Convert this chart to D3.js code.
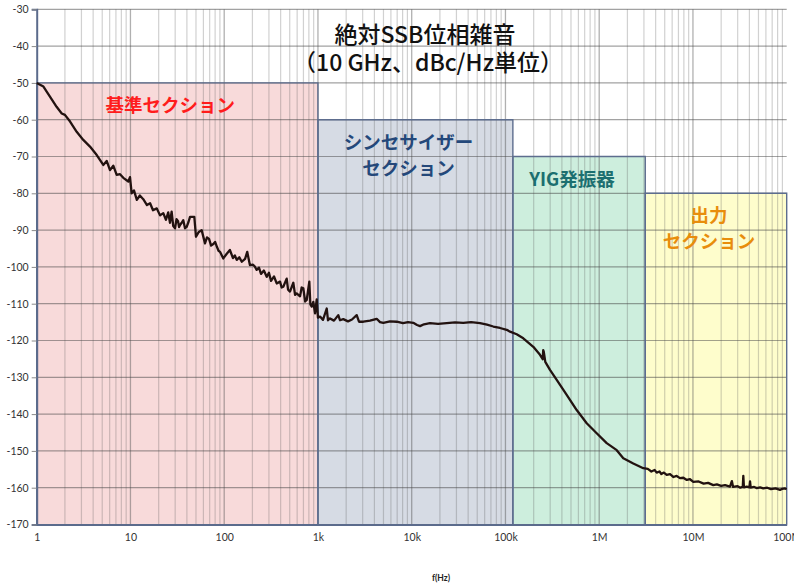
<!DOCTYPE html>
<html>
<head>
<meta charset="utf-8">
<script src="https://cdn.jsdelivr.net/npm/d3@7"></script>
<style>
  body { margin: 0; background: #ffffff; }
  svg { display: block; }
</style>
</head>
<body>
<svg id="chart" width="794" height="588"></svg>
<script>
// Axis ticks
const freqTicks = [1, 10, 100, 1e3, 1e4, 1e5, 1e6, 1e7, 1e8];
const freqTickLabels = ["1", "10", "100", "1k", "10k", "100k", "1M", "10M", "100M"];
const dbTicks = [-30, -40, -50, -60, -70, -80, -90, -100, -110, -120, -130, -140, -150, -160, -170];

// Chart title, two lines
const titleLines = ["絶対SSB位相雑音", "（10 GHz、dBc/Hz単位）"];

// Sections of the synthesizer and the band each one dominates
const sectionLines = [["基準セクション"], ["シンセサイザー", "セクション"], ["YIG発振器"], ["出力", "セクション"]];
const sectionStart = [1, 1e3, 1.2e5, 3.1e6];
const sectionEnd = [1e3, 1.2e5, 3.1e6, 1e8];
const sectionTop = [-50, -60, -70, -80];
const sectionFill = ["#f8dada", "#d6dbe4", "#cdeedd", "#fefdcc"];
const sectionText = ["#ff1c1c", "#24487a", "#1c6f70", "#e88d0c"];

// Measured SSB phase noise, 10 GHz carrier
const noiseFreq = [
  1, 1.18, 1.39, 1.63, 1.85, 2.0, 2.27, 2.67, 3.14, 3.7, 4.37, 5.13, 5.58, 6.05, 6.56, 7.13, 7.74, 8.39, 9.49, 9.89,
  10.3, 10.9, 11.7, 12.6, 13.7, 15.0, 16.2, 17.4, 19.1, 20.7, 22.4, 23.9, 25.3, 26.4, 27.5, 28.6, 29.9, 31.0, 32.2, 33.0, 33.8, 35.2, 36.6, 38.2, 39.8,
  41.6, 43.2, 48.0, 50.0, 53.2, 57.5, 62.4, 65.5, 68.9, 72.5, 76.6, 80.0, 83.8, 87.0, 90.2, 97.8,
  106, 115, 124, 130, 136, 145, 154, 167, 176, 188, 203, 212, 222, 235, 247, 265, 284, 300, 316, 340, 363, 394, 410, 427, 464, 480, 503, 546, 570, 593, 644, 670, 698, 730, 759, 809, 830, 858, 892, 931, 970,
  1000, 1052, 1132, 1240, 1280, 1345, 1483, 1648, 1718, 1863, 2092, 2307, 2590, 2741, 3048, 3590, 4233, 4592, 4977, 5872, 6918, 8075, 9140,
  10400, 11400, 12270, 13530, 15670, 19090, 23620, 28970, 35480, 42950, 53550, 63550, 74190, 87470,
  103100, 111900, 131800, 155000, 198200, 233600, 249700, 253000, 256000, 266000, 298500, 352200, 450000, 575400, 735900, 940300,
  1.202e6, 1.538e6, 1.807e6, 2.311e6, 2.952e6, 3.3e6, 3.6e6, 3.9e6, 4.104e6, 4.4e6, 4.6e6, 4.9e6, 5.248e6, 5.7e6, 6.2e6, 6.7e6, 7.278e6, 7.9e6, 8.6e6, 9.3e6,
  1.009e7, 1.15e7, 1.3e7, 1.45e7, 1.648e7, 1.8e7, 2.0e7, 2.2e7, 2.483e7, 2.6e7, 2.68e7, 3.0e7, 3.2e7, 3.40e7, 3.445e7, 3.5e7, 3.75e7, 4.0e7, 4.064e7, 4.13e7, 4.5e7, 4.8e7, 5.2e7, 5.623e7, 6.2e7, 6.8e7, 7.6e7, 8.488e7, 9.0e7, 9.594e7, 1e8
];
const noiseDb = [
  -50.0, -51.0, -53.8, -56.5, -58.3, -58.7, -60.5, -63.3, -65.5, -67.3, -69.6, -72.3, -71.2, -73.7, -72.5, -75.0, -74.8, -75.8, -76.8, -75.6,
  -80.0, -79.2, -81.8, -80.6, -81.6, -83.2, -82.7, -84.6, -84.1, -86.0, -85.4, -87.2, -85.2, -88.0, -85.0, -88.9, -89.5, -87.0, -87.6, -89.2, -88.6, -88.0, -87.3, -89.5, -89.1,
  -87.8, -86.4, -86.4, -91.8, -90.6, -90.0, -93.6, -92.0, -92.4, -94.2, -93.8, -93.2, -94.6, -95.6, -95.9, -97.7,
  -96.5, -95.4, -97.6, -96.9, -98.1, -97.4, -98.6, -97.8, -95.9, -99.5, -99.4, -99.9, -100.8, -100.2, -101.9, -101.0, -102.7, -101.6, -103.8, -102.6, -104.5, -104.0, -105.6, -105.4, -103.2, -106.2, -106.7, -104.3, -107.6, -107.2, -108.0, -105.6, -105.8, -109.4, -109.0, -104.0, -110.2, -110.8, -109.5, -112.6, -108.8,
  -113.8, -113.5, -114.4, -111.3, -114.5, -114.0, -114.6, -113.1, -114.5, -114.2, -114.8, -114.3, -113.1, -114.9, -114.9, -114.6, -114.1, -115.0, -115.2, -114.8, -114.9, -115.3, -115.0,
  -115.2, -115.8, -116.1, -115.6, -115.3, -115.5, -115.3, -115.1, -115.2, -115.0, -115.3, -115.7, -116.2, -116.6,
  -117.1, -117.6, -118.3, -119.4, -121.7, -123.9, -125.1, -122.6, -123.0, -125.8, -128.0, -130.7, -134.8, -138.9, -142.5, -145.2,
  -147.9, -149.8, -152.0, -153.4, -154.7, -154.9, -155.6, -155.2, -155.9, -155.6, -156.3, -155.9, -156.5, -156.3, -157.1, -156.8, -157.4, -157.3, -157.9, -157.7,
  -158.4, -158.3, -158.9, -158.7, -159.3, -159.1, -159.5, -159.3, -159.7, -158.2, -159.8, -159.6, -160.0, -159.8, -156.8, -159.9, -159.7, -159.9, -158.3, -160.0, -159.8, -160.1, -159.9, -160.2, -160.0, -160.4, -160.2, -160.6, -160.3, -160.2, -160.4
];

const W = 794, H = 588;
const plot = { left: 36.7, right: 786.7, top: 9.3, bottom: 524.5 };

const svg = d3.select("#chart");
const x = d3.scaleLog().domain([1, 1e8]).range([plot.left, plot.right]);
const y = d3.scaleLinear().domain([-30, -170]).range([plot.top, plot.bottom]);

const labelFont = "Lato, 'Open Sans', sans-serif";
const cjkFont = "'Noto Sans CJK JP', 'Noto Sans', sans-serif";

// Section backgrounds
const sections = sectionStart.map((s, i) => ({
  start: s, end: sectionEnd[i], top: sectionTop[i], fill: sectionFill[i], color: sectionText[i], lines: sectionLines[i]
}));

svg.append("g").selectAll("rect").data(sections).join("rect")
  .attr("x", d => x(d.start))
  .attr("y", d => y(d.top))
  .attr("width", d => x(d.end) - x(d.start))
  .attr("height", d => y(-170) - y(d.top))
  .attr("fill", d => d.fill);

// Grid: every 1..9 per decade, every 10 dB
const minorFreqs = [];
for (let e = 0; e < 8; e++) for (let m = 2; m <= 9; m++) minorFreqs.push(m * Math.pow(10, e));

const grid = svg.append("g");
grid.selectAll("line.minor").data(minorFreqs).join("line")
  .attr("class", "minor")
  .attr("x1", d => x(d)).attr("x2", d => x(d))
  .attr("y1", plot.top).attr("y2", plot.bottom)
  .attr("stroke", "rgba(90,90,90,0.28)").attr("stroke-width", 1.2);
grid.selectAll("line.major").data(freqTicks.slice(1, -1)).join("line")
  .attr("class", "major")
  .attr("x1", d => x(d)).attr("x2", d => x(d))
  .attr("y1", plot.top).attr("y2", plot.bottom)
  .attr("stroke", "rgba(80,80,80,0.45)").attr("stroke-width", 1.3);
grid.selectAll("line.h").data(dbTicks.slice(0, -1)).join("line")
  .attr("class", "h")
  .attr("x1", plot.left).attr("x2", plot.right)
  .attr("y1", d => y(d)).attr("y2", d => y(d))
  .attr("stroke", "rgba(70,70,70,0.5)").attr("stroke-width", 1.2);

// Section outlines
svg.append("g").selectAll("path").data(sections).join("path")
  .attr("d", d => `M${x(d.start)},${y(-170)}V${y(d.top)}H${x(d.end)}V${y(-170)}`)
  .attr("fill", "none")
  .attr("stroke", "#5d6d8e")
  .attr("stroke-width", 1.4);

// Axes
const yAxis = d3.axisLeft(y).tickValues(dbTicks).tickSize(5).tickPadding(3).tickFormat(d => String(d));
const gy = svg.append("g").attr("transform", `translate(${plot.left},0)`).call(yAxis);
gy.select(".domain").attr("stroke", "#5b6b8c").attr("stroke-width", 2);
gy.selectAll(".tick line").attr("stroke", "#8a8a8a");
gy.selectAll(".tick text").attr("fill", "#333").attr("font-family", labelFont).attr("font-size", 10.5);

const xAxis = d3.axisBottom(x).tickValues(freqTicks).tickSize(0).tickPadding(9)
  .tickFormat((d, i) => freqTickLabels[i]);
const gx = svg.append("g").attr("transform", `translate(0,${plot.bottom})`).call(xAxis);
gx.select(".domain").attr("stroke", "#5b6b8c").attr("stroke-width", 2);
gx.selectAll(".tick text").attr("fill", "#333").attr("font-family", labelFont).attr("font-size", 10.5);

// Phase noise trace
const pts = noiseFreq.map((f, i) => [f, noiseDb[i]]);
svg.append("path")
  .datum(pts)
  .attr("d", d3.line().x(d => x(d[0])).y(d => y(d[1])))
  .attr("fill", "none")
  .attr("stroke", "#221210")
  .attr("stroke-width", 2.3)
  .attr("stroke-linejoin", "round");

// Section labels
const lbl = svg.append("g").attr("font-family", cjkFont).attr("font-weight", 700).attr("font-size", 18.5);
sections.forEach(s => {
  const cx = (x(s.start) + x(s.end)) / 2 - 7;
  s.lines.forEach((t, j) => {
    lbl.append("text")
      .attr("x", cx)
      .attr("y", y(s.top) + 21 + j * 26)
      .attr("text-anchor", "middle")
      .attr("dominant-baseline", "central")
      .attr("fill", s.color)
      .text(t);
  });
});

// Title: one text block, one line per tspan
const title = svg.append("text")
  .attr("font-family", cjkFont).attr("font-weight", 500).attr("font-size", 23).attr("fill", "#111")
  .attr("text-anchor", "middle");
title.selectAll("tspan").data(titleLines).join("tspan")
  .attr("x", (d, i) => i === 0 ? 425 : 428)
  .attr("y", (d, i) => i === 0 ? 43 : 71)
  .text(d => d);

// Axis title
svg.append("text").attr("x", 441).attr("y", 578).attr("text-anchor", "middle")
  .attr("dominant-baseline", "central")
  .attr("font-family", labelFont).attr("font-weight", 700).attr("font-size", 8.5).attr("fill", "#222")
  .text("f(Hz)");
</script>
</body>
</html>
